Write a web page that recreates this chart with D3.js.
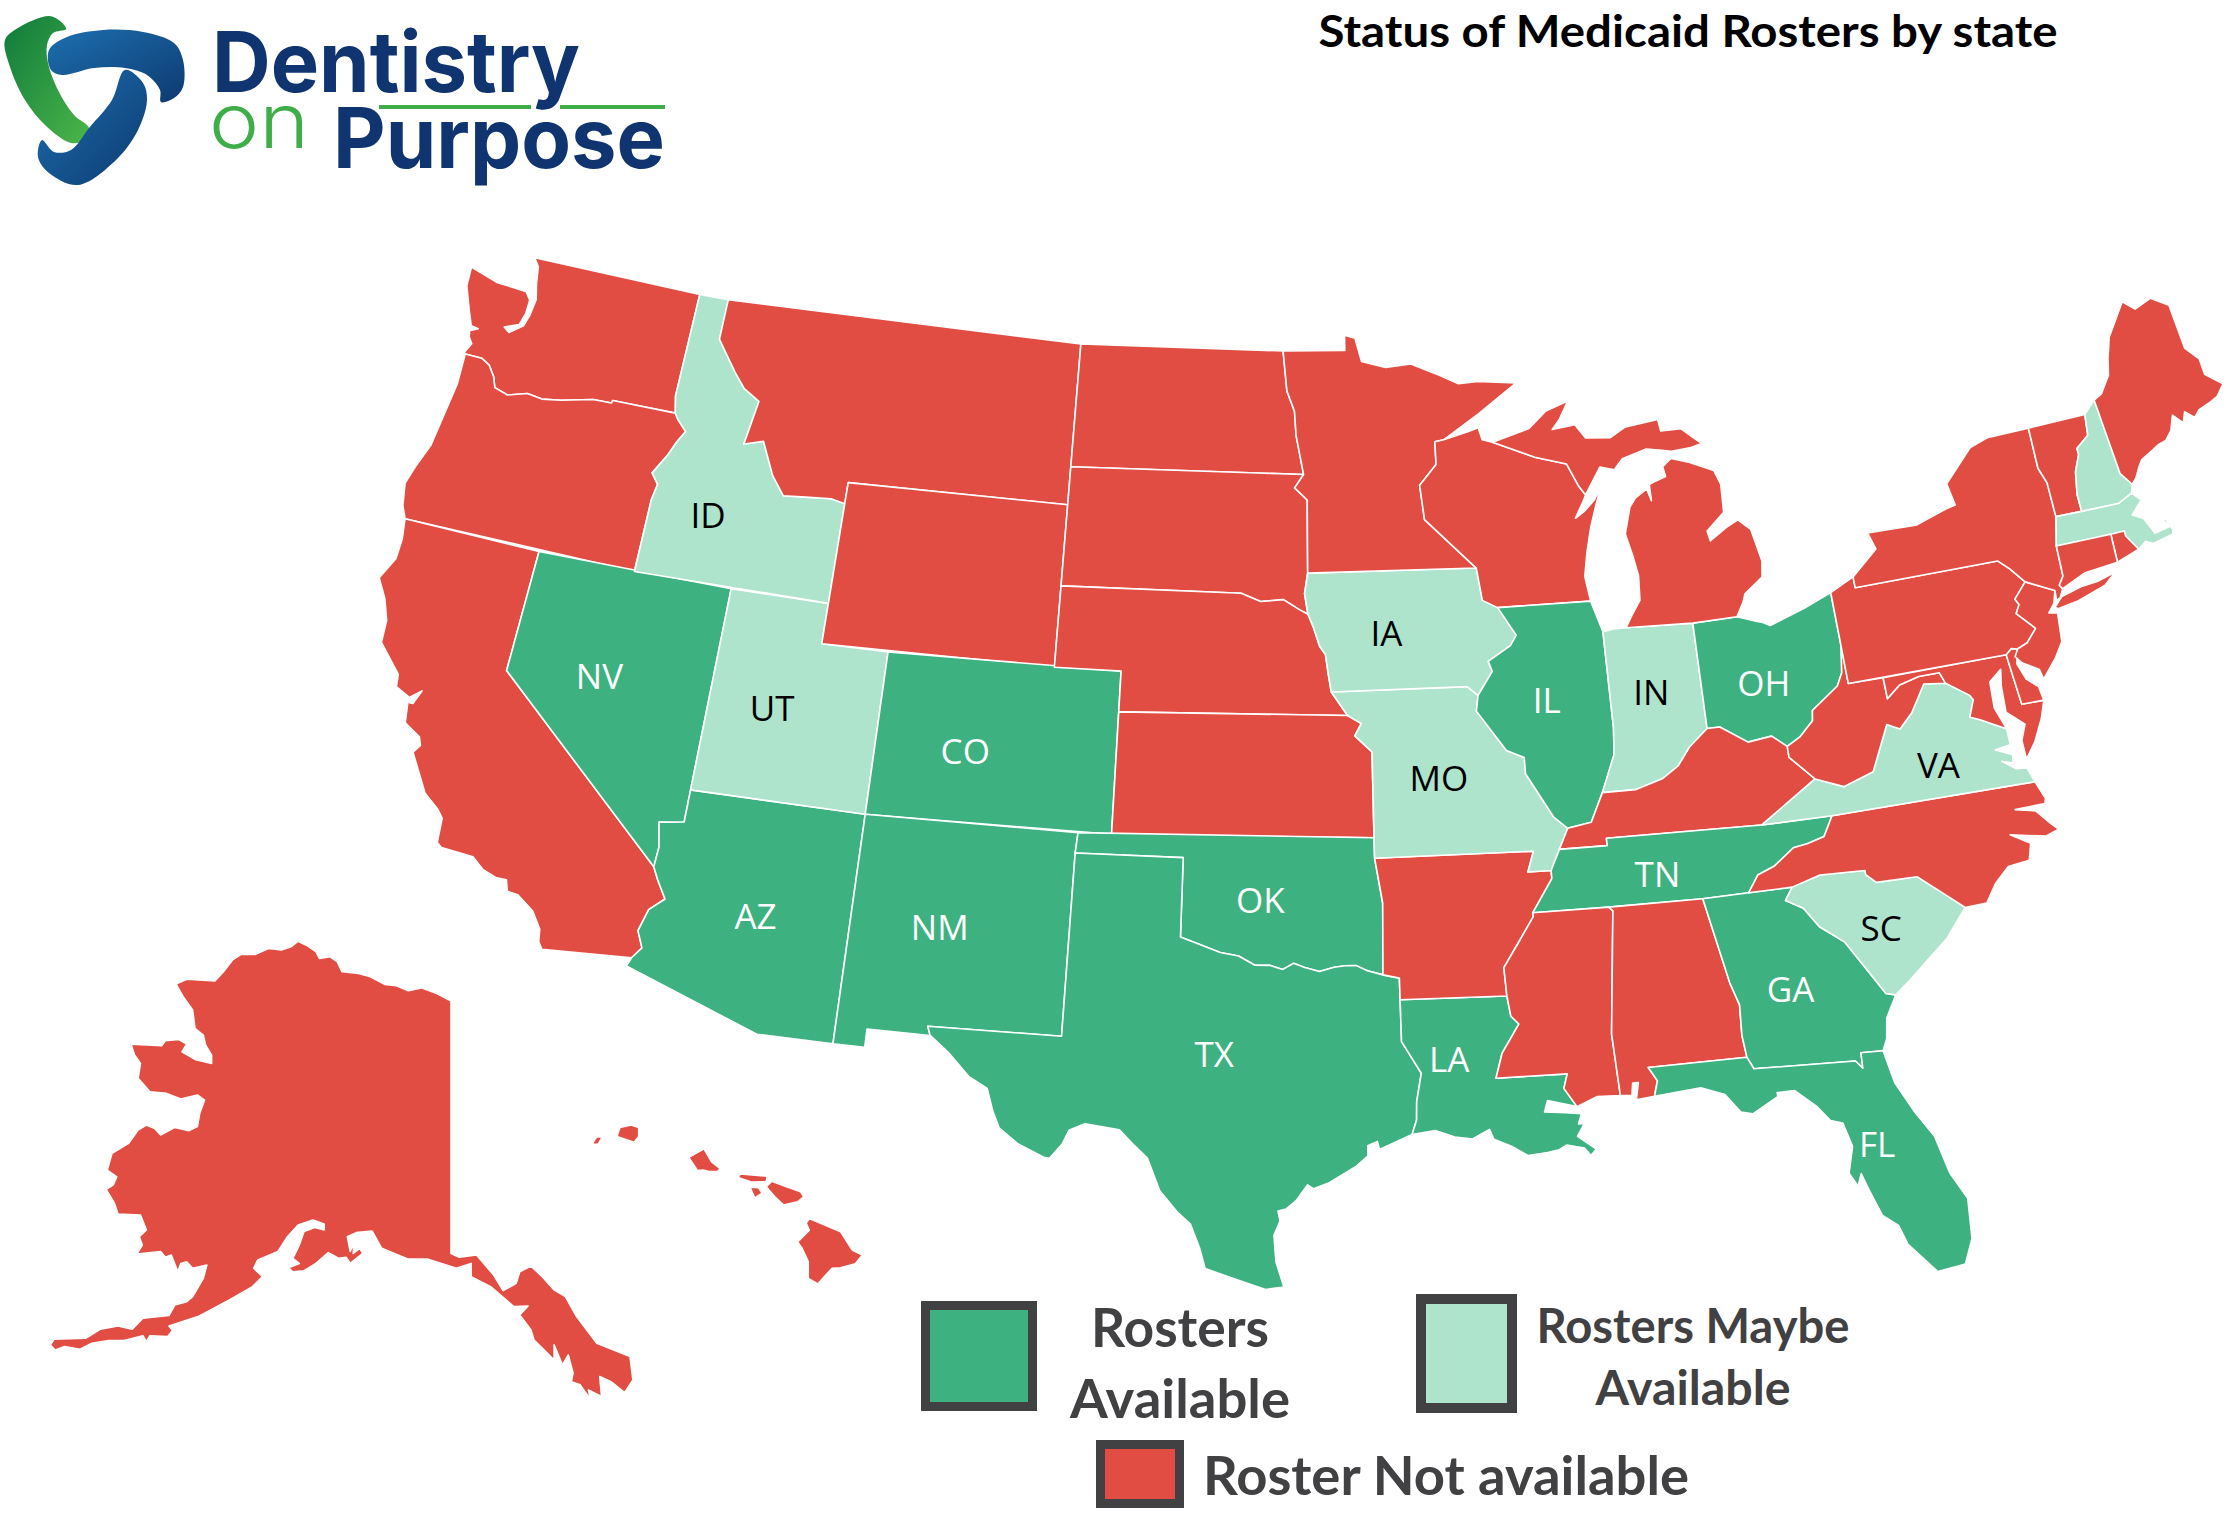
<!DOCTYPE html>
<html>
<head>
<meta charset="utf-8">
<script src="https://d3js.org/d3.v7.min.js"></script>
<style>
  body { margin: 0; background: #fff; }
  text { font-family: Lato, "Open Sans", sans-serif; }
</style>
</head>
<body>
<div id="chart"></div>
<script>
// status of each state
const rostersAvailable = ["NV","AZ","NM","CO","TX","OK","LA","IL","OH","TN","GA","FL"];
const rostersMaybe = ["ID","UT","IA","MO","IN","VA","SC","NH","MA"];
const labelled = ["ID","NV","UT","CO","AZ","NM","TX","OK","IA","MO","IL","IN","OH","VA","TN","SC","GA","LA","FL"];
const legendLabels = ["Rosters","Available","Rosters Maybe","Available","Roster Not available"];

// shared borders, lon/lat
const waCoast = [[-122.76,49],[-122.55,48.8],[-122.45,48.4],[-122.3,48],[-122.35,47.6],[-122.45,47.3],[-122.85,47.05],[-123.05,47.15],[-122.6,47.3],[-122.5,47.6],[-122.5,47.95],[-122.7,48.13],[-123.1,48.15],[-123.7,48.17],[-124.7,48.38],[-124.65,47.9],[-124.3,47.3],[-124.1,46.98],[-123.85,46.95],[-124.1,46.85],[-124.05,46.7],[-123.9,46.55],[-124.05,46.3],[-124,46.27]];
const columbia = [[-124,46.27],[-123.45,46.27],[-123.15,46.15],[-122.9,45.9],[-122.76,45.65],[-122.3,45.55],[-121.7,45.7],[-121.2,45.65],[-120.6,45.73],[-119.6,45.92],[-119,45.93],[-118.98,46],[-116.92,46]];
const waId = [[-117.03,49],[-117.04,46.42],[-116.92,46]];
const orCoast = [[-124,46.27],[-123.95,45.5],[-124.05,44.7],[-124.15,43.9],[-124.4,43.3],[-124.55,42.84],[-124.4,42.3],[-124.21,42]];
const orId = [[-116.92,46],[-116.78,45.85],[-116.46,45.6],[-116.67,45.3],[-116.85,44.95],[-117.2,44.45],[-116.95,44.2],[-117.03,43.8],[-117.03,42]];
const caCoast = [[-124.21,42],[-124.1,41.5],[-124.1,41],[-124.4,40.45],[-124.05,40],[-123.8,39.5],[-123.75,38.95],[-123,38.3],[-122.95,38],[-122.5,37.82],[-122.2,38.05],[-122.35,37.7],[-122.5,37.7],[-122.4,37.2],[-121.9,36.95],[-121.8,36.75],[-121.95,36.55],[-121.3,35.65],[-120.85,35.35],[-120.65,35.15],[-120.6,34.55],[-120.45,34.45],[-119.55,34.4],[-119.2,34.15],[-118.8,34.02],[-118.5,34.02],[-118.4,33.75],[-118.1,33.72],[-117.6,33.4],[-117.3,33],[-117.25,32.7],[-117.12,32.53]];
const colorado = [[-114.72,32.72],[-114.5,33],[-114.7,33.4],[-114.53,33.95],[-114.15,34.27],[-114.45,34.7],[-114.63,35]];
const caNv = [[-114.63,35],[-120,39],[-120,42]];
const nvAz = [[-114.63,35],[-114.6,35.5],[-114.74,36.1],[-114.35,36.15],[-114.05,36.2],[-114.05,37]];
const mtId = [[-111.05,44.47],[-111.5,44.55],[-112.3,44.5],[-113,44.45],[-113.45,44.9],[-113.95,45.7],[-114.55,45.55],[-114.35,46.65],[-114.9,46.9],[-115.3,47.25],[-115.75,47.7],[-116.05,48],[-116.05,49]];
const redRiverN = [[-97.23,49],[-97.1,48],[-96.85,47.5],[-96.8,46.9],[-96.56,45.93]];
const mnSd = [[-96.56,45.93],[-96.85,45.6],[-96.45,45.3],[-96.45,43.5]];
const sdIa = [[-96.45,43.5],[-96.55,43],[-96.45,42.49]];
const neSd = [[-96.45,42.49],[-96.7,42.6],[-97.2,42.85],[-97.9,42.8],[-98.5,43],[-104.05,43]];
const neIa = [[-95.77,40.58],[-95.85,41],[-95.93,41.5],[-96.1,41.7],[-96.3,42.2],[-96.45,42.49]];
const neMo = [[-95.3,40],[-95.77,40.58]];
const ksMo = [[-95.3,40],[-94.9,39.8],[-95.1,39.5],[-94.61,39.1],[-94.62,37]];
const okAr = [[-94.62,36.5],[-94.43,35.4],[-94.48,33.64]];
const redRiver = [[-94.48,33.64],[-94.9,33.75],[-95.2,33.88],[-95.5,33.88],[-95.8,33.85],[-96.2,33.75],[-96.6,33.85],[-96.9,33.95],[-97.2,33.8],[-97.55,33.9],[-97.95,33.9],[-98.4,34.12],[-98.9,34.2],[-99.2,34.3],[-99.5,34.4],[-100,34.56]];
const txLa = [[-94.04,33.02],[-94.04,31.99],[-93.55,31.2],[-93.7,30.5],[-93.72,30.05],[-93.85,29.7]];
const txCoast = [[-93.85,29.7],[-94.7,29.35],[-94.75,29.55],[-95,29.45],[-95,29.2],[-95.3,28.95],[-96,28.55],[-96.4,28.4],[-96.55,28.5],[-96.85,28.1],[-97.1,27.9],[-97.3,27.85],[-97.25,27.6],[-97.4,27.25],[-97.35,26.6],[-97.15,25.96]];
const rioGrande = [[-97.15,25.96],[-97.6,25.9],[-98.2,26.1],[-99.1,26.4],[-99.25,26.9],[-99.5,27.5],[-99.85,27.8],[-100.3,28.3],[-100.65,29.1],[-101,29.4],[-101.4,29.77],[-102.3,29.88],[-102.7,29.7],[-102.85,29.35],[-103.15,28.98],[-103.3,29],[-104,29.3],[-104.5,29.65],[-104.7,30.05],[-104.9,30.6],[-105.4,30.85],[-106,31.4],[-106.53,31.78]];
const laMs = [[-91.17,33],[-91.1,32.5],[-90.9,32.3],[-91.4,31.6],[-91.6,31],[-89.73,31],[-89.85,30.65],[-89.55,30.18]];
const laCoast = [[-89.55,30.18],[-89.8,30.25],[-90.3,30.38],[-90.4,30.1],[-89.85,30.05],[-89.45,30],[-89.55,29.75],[-89.4,29.75],[-89.6,29.45],[-89.15,29.1],[-89.3,28.95],[-89.45,29.15],[-89.9,29.25],[-90.1,29.15],[-90.4,29.1],[-90.9,29.05],[-91.3,29.3],[-91.75,29.5],[-91.85,29.75],[-92.3,29.53],[-92.75,29.6],[-93.25,29.78],[-93.85,29.7]];
const msRiver = [[-91.17,33],[-91.2,33.7],[-90.75,34.3],[-90.3,34.9],[-90.3,35]];
const msAl = [[-88.2,35],[-88.1,34.9],[-88.47,31.9],[-88.4,30.37]];
const msCoast = [[-88.4,30.37],[-89,30.39],[-89.55,30.18]];
const alGa = [[-85.6,34.98],[-85.18,32.87],[-85,32.3],[-85.05,31.55],[-85,31]];
const alFl = [[-85,31],[-87.6,31],[-87.4,30.65],[-87.52,30.28]];
const alCoast = [[-87.52,30.28],[-88,30.23],[-87.9,30.65],[-88.05,30.65],[-88.1,30.35],[-88.4,30.37]];
const gaFl = [[-85,31],[-84.86,30.7],[-82.21,30.57],[-82.05,30.37],[-82.03,30.75],[-81.45,30.72]];
const flCoast = [[-81.45,30.72],[-81.3,29.9],[-80.95,29.15],[-80.55,28.45],[-80.35,27.5],[-80.03,26.8],[-80.12,25.8],[-80.4,25.2],[-81.1,25.12],[-81.7,25.9],[-81.85,26.4],[-82.2,26.7],[-82.4,27.3],[-82.55,27.8],[-82.68,27.5],[-82.85,27.85],[-82.65,28.5],[-82.8,29.1],[-83.1,29.2],[-83.4,29.6],[-83.9,30.05],[-84.35,30.05],[-84.35,29.95],[-85.05,29.6],[-85.35,29.68],[-85.7,30.15],[-86.3,30.38],[-87.52,30.28]];
const gaSc = [[-83.11,35],[-83.35,34.7],[-82.9,34.45],[-82.55,33.95],[-81.95,33.5],[-81.4,32.6],[-81.1,32.1],[-80.85,32.03]];
const gaCoast = [[-80.85,32.03],[-81.2,31.5],[-81.3,31],[-81.45,30.72]];
const ncSc = [[-83.11,35],[-82.3,35.2],[-81.05,35.15],[-81.05,35.05],[-80.8,34.82],[-79.67,34.8],[-78.55,33.86]];
const scCoast = [[-78.55,33.86],[-79.2,33.2],[-79.9,32.7],[-80.45,32.3],[-80.85,32.03]];
const tnNc = [[-84.32,35],[-84,35.4],[-83.5,35.57],[-82.9,35.95],[-82.5,36],[-82,36.12],[-81.68,36.59]];
const ncCoast = [[-75.87,36.55],[-75.7,36.1],[-75.75,35.98],[-76.6,35.98],[-76.05,35.85],[-75.75,35.5],[-75.55,35.3],[-75.95,35.2],[-76.9,35.4],[-76.4,35.1],[-76.55,34.7],[-77.15,34.65],[-77.6,34.3],[-77.95,33.87],[-78.55,33.86]];
const vaCoast = [[-75.87,36.55],[-76,36.92],[-76.3,36.95],[-76.65,37.2],[-76.35,37.1],[-76.3,37.3],[-76.75,37.5],[-76.3,37.55],[-76.3,37.95]];
const vaMd = [[-76.3,37.95],[-77,38.3],[-77.25,38.4],[-77.04,38.8],[-77.12,38.93],[-77.72,39.32]];
const vaWv = [[-77.72,39.32],[-78.35,39.4],[-78.87,38.76],[-79.3,38.42],[-79.65,38.58],[-80.3,37.5],[-81.2,37.25],[-81.97,37.54]];
const vaKy = [[-81.97,37.54],[-83.68,36.6]];
const ohRiverE = [[-80.52,40.64],[-80.65,40],[-80.85,39.7],[-81.7,39.2],[-81.75,38.95],[-82.2,38.6],[-82.6,38.42]];
const wvKy = [[-82.6,38.42],[-82.6,38.15],[-81.97,37.54]];
const wvMd = [[-79.48,39.72],[-79.48,39.2],[-79.05,39.48],[-78.45,39.6],[-77.83,39.6],[-77.72,39.32]];
const mdDe = [[-75.79,39.72],[-75.7,38.46],[-75.05,38.45]];
const deArc = [[-75.79,39.72],[-75.6,39.84],[-75.42,39.8]];
const paNj = [[-74.7,41.36],[-75.13,41],[-75.05,40.85],[-75.2,40.65],[-74.75,40.2],[-75.1,39.9],[-75.42,39.8]];
const delawareN = [[-75.35,42],[-75.05,41.75],[-74.7,41.36]];
const nyVt = [[-73.35,45.01],[-73.4,44],[-73.25,43.6],[-73.27,42.75]];
const nyCt = [[-73.5,42.05],[-73.55,41.3],[-73.73,41.1],[-73.66,41]];
const ctRiver = [[-71.5,45.01],[-71.6,44.5],[-72.05,44.25],[-72.05,44.1],[-72.3,43.7],[-72.45,43.15],[-72.46,42.73]];
const nhMe = [[-71.08,45.3],[-70.98,43.4],[-70.72,43.07]];
const nhMa = [[-70.82,42.87],[-71.3,42.7],[-72.46,42.73]];
const riMa = [[-71.8,42.02],[-71.38,42.02],[-71.38,41.89],[-71.12,41.5]];
const ohIn = [[-84.8,41.7],[-84.82,39.1]];
const ohRiver = [[-84.82,39.1],[-84.45,39.1],[-83.7,38.65],[-83,38.72],[-82.6,38.42]];
const inKy = [[-84.82,39.1],[-85.4,38.7],[-85.8,38.27],[-86.3,38],[-87.1,37.8],[-88.05,37.8]];
const ilKy = [[-88.05,37.8],[-88.45,37.1],[-89.13,37]];
const kyTn = [[-89.42,36.5],[-88.07,36.5],[-88.07,36.68],[-83.68,36.6]];
const tnVa = [[-83.68,36.6],[-81.68,36.59]];
const tnMo = [[-89.13,37],[-89.42,36.5],[-89.7,36]];
const tnAr = [[-89.7,36],[-89.7,35.8],[-90.3,35]];
const moIl = [[-91.42,40.38],[-91.5,40],[-90.7,39],[-90.2,38.8],[-90.2,38.4],[-89.5,37.3],[-89.13,37]];
const iaIl = [[-91.22,43.5],[-91.1,42.7],[-90.65,42.5],[-90.15,41.8],[-90.35,41.55],[-91.05,41.2],[-90.95,40.95],[-91.42,40.38]];
const mnWi = [[-92,46.7],[-92.29,46.66],[-92.29,46.1],[-92.85,45.6],[-92.75,44.75],[-91.22,43.5]];
const wiMi = [[-90.42,46.57],[-89.1,46.13],[-88.1,45.9],[-87.8,45.35],[-87.6,45.1]];
const ilIn = [[-87.53,41.72],[-87.53,39.35],[-87.6,38.7],[-87.95,38],[-88.05,37.8]];
const r = a => a.slice().reverse();

// state outlines stitched from the borders above
const stateRings = {
  WA: [[...waCoast, ...columbia, ...r(waId)]],
  OR: [[...orCoast, [-117.03,42], ...r(orId), ...r(columbia)]],
  CA: [[...caCoast, ...colorado, ...caNv]],
  NV: [[[-114.04,42], ...r(nvAz), ...caNv]],
  AZ: [[[-114.05,37],[-109.05,37],[-109.05,31.33],[-111.07,31.33],[-114.81,32.5], ...colorado, ...nvAz]],
  UT: [[[-114.04,42],[-111.05,42],[-111.05,41],[-109.05,41],[-109.05,37],[-114.05,37]]],
  ID: [[[-117.03,49], ...r(mtId), [-111.05,42],[-117.03,42], ...r(orId), ...r(waId)]],
  MT: [[[-116.05,49],[-104.05,49],[-104.05,45],[-111.05,45], ...mtId]],
  WY: [[[-111.05,45],[-104.05,45],[-104.05,41],[-111.05,41]]],
  CO: [[[-109.05,41],[-102.05,41],[-102.05,37],[-109.05,37]]],
  NM: [[[-109.05,37],[-103,37],[-103.04,36.5],[-103.06,32],[-106.62,32],[-106.53,31.78],[-108.21,31.78],[-108.21,31.33],[-109.05,31.33]]],
  ND: [[[-104.05,49], ...redRiverN, [-104.05,45.94]]],
  SD: [[[-104.05,45.94], ...mnSd, ...sdIa, ...neSd]],
  NE: [[[-104.05,43], ...r(neSd), ...r(neIa), ...r(neMo), [-102.05,40],[-102.05,41],[-104.05,41]]],
  KS: [[[-102.05,40],[-95.3,40], ...ksMo.slice(1), [-102.05,37]]],
  OK: [[[-103,37],[-94.62,37], ...okAr, ...redRiver, [-100,36.5],[-103.04,36.5]]],
  TX: [[[-103.04,36.5],[-100,36.5], ...r(redRiver), [-94.04,33.55], ...txLa, ...txCoast, ...rioGrande, [-106.62,32],[-103.06,32]]],
  LA: [[[-94.04,33.02], ...laMs, ...laCoast, ...r(txLa)]],
  AR: [[[-94.62,36.5],[-90.15,36.5],[-90.35,36], ...tnAr, ...r(msRiver), [-94.04,33.02],[-94.04,33.55],[-94.48,33.64], ...r(okAr)]],
  MO: [[[-95.77,40.58],[-91.73,40.61], ...moIl, ...tnMo, [-90.35,36],[-90.15,36.5],[-94.62,36.5], ...r(ksMo), ...neMo]],
  IA: [[[-96.45,43.5], ...iaIl, [-91.73,40.61],[-95.77,40.58], ...neIa, ...r(sdIa)]],
  MN: [[[-97.23,49],[-95.15,49],[-95.15,49.38],[-94.8,49.3],[-94.6,48.72],[-93.8,48.55],[-92.95,48.62],[-92,48.3],[-91.4,48.07],[-90.75,48.1],[-89.5,48],[-90.8,47.3], ...mnWi, [-96.45,43.5], ...r(mnSd), ...r(redRiverN)]],
  WI: [[[-92,46.7],[-91.2,46.87],[-90.85,46.95],[-90.75,46.65], ...wiMi, [-87.7,44.95],[-88,44.55],[-87.7,44.7],[-87.35,44.95],[-87.1,45.25],[-87.3,44.85],[-87.55,44.3],[-87.75,43.7],[-87.9,43.1],[-87.8,42.49],[-90.65,42.5],[-91.1,42.7],[-91.22,43.5], ...r(mnWi).slice(1)]],
  IL: [[[-87.8,42.49], ...ilIn, ...ilKy, ...r(moIl), [-90.95,40.95],[-91.05,41.2],[-90.35,41.55],[-90.15,41.8],[-90.65,42.5]]],
  IN: [[[-87.53,41.72],[-87.2,41.76],[-86.82,41.76],[-84.8,41.7], ...ohIn, ...inKy, ...r(ilIn)]],
  OH: [[[-80.52,41.98],[-81.4,41.7],[-82.5,41.4],[-82.7,41.5],[-82.9,41.55],[-83.45,41.72],[-84.8,41.7], ...ohIn, ...ohRiver, ...r(ohRiverE)]],
  KY: [[[-84.82,39.1], ...inKy, ...ilKy, [-89.42,36.5], ...kyTn, ...r(vaKy), ...r(wvKy), ...r(ohRiver)]],
  TN: [[[-89.42,36.5], ...kyTn, ...tnVa, ...r(tnNc), [-85.6,34.98],[-88.2,35],[-90.3,35], ...r(tnAr)]],
  MS: [[[-90.3,35],[-88.2,35], ...msAl, ...msCoast, ...r(laMs), ...msRiver]],
  AL: [[[-88.2,35], ...alGa, ...alFl, ...alCoast, ...r(msAl)]],
  GA: [[[-85.6,34.98],[-83.11,35], ...gaSc, ...gaCoast, ...r(gaFl), ...r(alGa)]],
  FL: [[...gaFl, ...flCoast, ...r(alFl)]],
  SC: [[...ncSc, ...scCoast, ...r(gaSc)]],
  NC: [[[-84.32,35], ...tnNc, [-75.87,36.55], ...ncCoast, ...r(ncSc)]],
  VA: [[[-83.68,36.6], ...tnVa, [-75.87,36.55], ...vaCoast, ...vaMd, ...vaWv, ...vaKy]],
  WV: [[...ohRiverE, ...wvKy, ...r(vaWv), ...r(wvMd), [-80.52,39.72]]],
  MD: [[[-79.48,39.72], ...mdDe, [-75.25,38.03],[-75.6,37.5],[-75.95,37.13],[-75.95,37.6],[-75.75,37.97],[-76.2,38.35],[-76.15,39],[-76.05,39.4],[-76.45,39.15],[-76.5,38.5],[-76.35,38.1], ...vaMd, ...r(wvMd)]],
  DE: [[...deArc, [-75.55,39.45],[-75.4,39.05],[-75.1,38.8], ...r(mdDe)]],
  PA: [[[-80.52,41.98],[-79.76,42.27],[-79.76,42], ...delawareN, ...paNj, ...r(deArc), [-80.52,39.72]]],
  NJ: [[[-74.7,41.36],[-73.9,41],[-74.03,40.7],[-74.25,40.5],[-74,40.45],[-74.1,39.75],[-74.4,39.4],[-74.9,38.95],[-74.95,39.2],[-75.4,39.45],[-75.55,39.63],[-75.42,39.8], ...r(paNj)]],
  NY: [[[-79.76,42.27],[-78.9,42.85],[-79.05,43.27],[-77.5,43.25],[-76.5,43.5],[-76.2,43.55],[-76.3,44.1],[-75.3,44.85],[-74.7,45],...nyVt,[-73.5,42.05],...nyCt,[-73.8,40.8],[-73.93,40.75],[-73.9,41],[-74.7,41.36], ...r(delawareN),[-79.76,42]],
       [[-74.03,40.6],[-73.75,40.82],[-73.1,40.95],[-72.6,40.98],[-72,41.1],[-72.4,40.85],[-73.3,40.63],[-73.95,40.55]]],
  VT: [[[-73.35,45.01], ...ctRiver, [-73.27,42.75], ...r(nyVt).slice(1)]],
  NH: [[[-71.5,45.01], ...nhMe, [-70.82,42.87], ...nhMa, ...r(ctRiver)]],
  ME: [[[-71.08,45.3],[-70.8,45.4],[-70.4,45.8],[-70.25,46.2],[-70,46.7],[-69.23,47.46],[-68.9,47.2],[-68.3,47.36],[-67.8,47.07],[-67.78,45.95],[-67.45,45.6],[-67.45,45.2],[-67,44.85],[-67.3,44.6],[-67.6,44.5],[-68,44.4],[-68.2,44.25],[-68.45,44.45],[-68.6,44.2],[-68.85,44.45],[-69.05,44.1],[-69.3,43.9],[-69.55,43.85],[-69.8,43.75],[-70.2,43.6],[-70.35,43.45],[-70.55,43.2], ...r(nhMe)]],
  MA: [[[-73.5,42.05], ...riMa, [-70.85,41.65],[-70.65,41.55],[-70,41.65],[-69.95,41.75],[-70.05,42.03],[-70.2,42.08],[-70,41.85],[-70.5,41.78],[-70.7,42.2],[-71,42.35],[-70.6,42.65],[-70.82,42.87], ...nhMa, [-73.27,42.75]]],
  RI: [[...riMa, [-71.85,41.32]]],
  CT: [[[-73.5,42.05],[-71.8,42.02],[-71.85,41.32],[-72.9,41.25], ...r(nyCt)]],
  MI: [[[-86.82,41.76],[-84.8,41.7],[-83.45,41.72],[-83.2,42.05],[-83.1,42.25],[-82.5,42.6],[-82.42,43],[-82.6,43.8],[-82.95,44.07],[-83.35,43.92],[-83.9,43.65],[-83.95,43.9],[-83.35,44.3],[-83.3,45],[-83.45,45.35],[-84.2,45.63],[-84.75,45.78],[-85.05,45.6],[-85,45.35],[-85.4,45.25],[-85.55,45.2],[-85.55,44.8],[-85.65,45.1],[-86.05,44.9],[-86.25,44.7],[-86.5,44.05],[-86.35,43.5],[-86.25,43],[-86.3,42.4],[-86.6,42.05]],
       [...wiMi, [-87.05,45.75],[-86.6,45.65],[-86.3,45.9],[-85.5,46.08],[-85,46],[-84.7,45.95],[-84.1,45.98],[-83.7,46.05],[-84.3,46.48],[-84.95,46.48],[-85,46.77],[-86.1,46.67],[-86.6,46.45],[-87.4,46.5],[-87.7,46.85],[-88.45,46.78],[-88.2,47],[-87.85,47.45],[-88.6,47.25],[-89.2,46.85]]]
};

// the inset outlines follow the picture more than the globe
const alaskaRings = [[[-141,69.56],[-142.2,69.84],[-143.5,70.05],[-144.6,69.94],[-145.6,70.13],[-146.6,70.18],[-147.8,70.46],[-148.8,70.58],[-150.2,70.65],[-150.6,71.02],[-151.2,71.2],[-152.1,71.14],[-152.4,71.39],[-153.2,71.63],[-153.9,71.78],[-154.5,71.57],[-155.3,71.45],[-156.4,71.51],[-157.5,71.29],[-158.7,71.29],[-159.4,71.1],[-160.2,70.65],[-160.9,70.31],[-163.3,70.37],[-164.2,70.19],[-163.6,69.72],[-162.8,69.23],[-162.6,68.55],[-161.9,68.3],[-161.7,67.93],[-161.2,67.56],[-161.2,67.25],[-162.6,67.4],[-163.7,67.68],[-163.3,67.97],[-164,68.14],[-165.1,68.09],[-165.4,67.91],[-168,67.96],[-167.7,67.56],[-167.2,67.25],[-167.4,66.7],[-166.4,66.2],[-165,66.14],[-163.8,65.93],[-162.4,66.08],[-161.8,65.89],[-162.2,65.4],[-162.4,64.91],[-163.1,64.76],[-164.3,64.88],[-165.5,64.6],[-166,64.84],[-166.7,64.97],[-167.4,64.78],[-168.2,64.29],[-169.6,63.92],[-170,63.3],[-169.2,63.05],[-169.5,62.75],[-170.1,62.58],[-169.4,62.07],[-169.1,61.67],[-167.2,61.63],[-166.7,61.08],[-167.3,60.83],[-167.05,60.52],[-167.5,60.19],[-165.5,60.28],[-165.1,60.07],[-164.6,60.15],[-164.05,59.53],[-163.8,59.84],[-163.3,59.9],[-162.8,59.66],[-161.6,59.78],[-161.9,59.29],[-162.8,58.61],[-163.3,58.42],[-164.3,58.3],[-164.8,57.91],[-167,57.81],[-167.9,57.4],[-169.1,57.52],[-170.6,57.4],[-171.8,57.07],[-174.5,57.03],[-174.8,56.82],[-174.4,56.63],[-173.6,56.76],[-172.3,56.66],[-171.3,56.88],[-169.9,56.98],[-168.6,56.98],[-167,57.16],[-166.7,56.94],[-166.4,57.16],[-164.9,57.13],[-164.5,57.35],[-164.8,57.52],[-162.35,57.87],[-159.7,58.49],[-157.75,58.98],[-156.9,59.35],[-157.65,59.66],[-157.3,59.97],[-155.6,60.28],[-154.8,60.83],[-153.9,61.26],[-152.65,61.45],[-151.7,61.3],[-151.7,61.08],[-152.5,61.17],[-153.4,61.02],[-153.8,60.52],[-154.35,60.03],[-153.8,59.84],[-154.7,59.68],[-154.35,59.53],[-153.4,59.57],[-152.4,59.84],[-151.35,60.24],[-150.5,60.03],[-149.85,60.07],[-149.5,59.84],[-148.45,60.21],[-148.7,60.4],[-149.25,60.21],[-149.2,60.61],[-149.5,60.28],[-149.75,60.83],[-149,60.98],[-147.65,61.04],[-146.85,60.4],[-144.65,60],[-143,60],[-140.55,59.66],[-139.3,59.84],[-139.3,59.35],[-137.65,58.98],[-135.7,58.24],[-134.5,58.26],[-135.2,57.93],[-134.25,57.37],[-134,57],[-133.3,56.7],[-132.3,56.26],[-132.3,56.82],[-131.6,56.08],[-131.1,56.45],[-130.7,55.77],[-130.85,55.46],[-130.1,55.34],[-129.25,54.81],[-129.4,55.15],[-128.3,54.91],[-128.45,55.65],[-127.5,55.46],[-126.35,55.05],[-125.65,55.52],[-125.9,56.39],[-128.7,56.88],[-130.4,57.87],[-131.35,58.61],[-132.3,58.86],[-133.3,59.35],[-134.25,59.74],[-135.2,59.53],[-135.5,59.1],[-136.6,58.83],[-137.4,59.41],[-138.85,60.15],[-140.3,60.07],[-141,60.21]]];
const hawaiiRings = [[[-160.18,21.71],[-160.09,21.86],[-159.98,21.85],[-160.06,21.71]],[[-159.69,21.86],[-159.63,22.04],[-159.41,22.09],[-159.26,22.04],[-159.26,21.86],[-159.35,21.75]],[[-158.27,21.45],[-157.97,21.62],[-157.82,21.36],[-157.65,21.23],[-157.7,21.17],[-157.87,21.17],[-157.99,21.2],[-158.1,21.19]],[[-157.3,21.05],[-157.25,21.12],[-156.72,21.08],[-156.74,20.97],[-157.02,20.96]],[[-157.06,20.86],[-156.89,20.85],[-156.82,20.74],[-156.97,20.65]],[[-156.74,20.87],[-156.63,20.98],[-156.34,20.87],[-156.06,20.77],[-156,20.67],[-156.12,20.57],[-156.4,20.51],[-156.57,20.67]],[[-155.95,20.15],[-155.89,20.24],[-155.27,19.98],[-155.04,19.62],[-154.84,19.52],[-154.98,19.35],[-155.27,19.27],[-155.44,19.26],[-155.72,18.95],[-155.91,19.06],[-155.91,19.39],[-156.03,19.65],[-156.12,19.78],[-155.89,20.01]]];

// label anchors, lon/lat
const labelAnchors = {ID:[-115.2,43.7],NV:[-117.33,39.35],UT:[-112.18,39.3],CO:[-106.43,38.8],AZ:[-111.63,34.2],NM:[-106.6,34.47],TX:[-99,31.72],OK:[-97.82,35.5],IA:[-94.07,42],MO:[-92.7,38.43],IL:[-89.4,40.18],IN:[-86.3,40.16],OH:[-82.97,40.05],VA:[-78.43,37.41],TN:[-86.76,35.7],SC:[-80.9,33.72],GA:[-83.59,32.54],LA:[-92.8,31.53],FL:[-82.02,28.49]};

const width = 2230, height = 1518;
const colors = {available:"#3eb181", maybe:"#aee3cc", none:"#e14d43"};
const status = s => rostersAvailable.includes(s) ? "available" : rostersMaybe.includes(s) ? "maybe" : "none";

const svg = d3.select("#chart").append("svg")
    .attr("width", width).attr("height", height)
    .attr("viewBox", `0 0 ${width} ${height}`);

// the source map is stretched sideways, so x gets its own factor
const albers = d3.geoAlbers().rotate([97,0]).scale(2321).translate([0,0]);
const anchor = albers([-97.2,49]);
const lower48 = d => { const p = albers(d); return [(p[0]-anchor[0])*1.103+1284, p[1]-anchor[1]+351]; };

// alaska inset
const akX = d3.scaleLinear().domain([-141,-168]).range([451,131]);
const akY = d3.scaleLinear().domain([69.6,60.3]).range([1000,1251]);
const alaska = d => [akX(d[0]), akY(d[1])];

const hiProj = d3.geoEquirectangular().scale(2900).translate([0,0]);
const hiAnchor = hiProj([-155.5,19.6]);
const hawaii = d => { const p = hiProj(d); return [p[0]-hiAnchor[0]+829, p[1]-hiAnchor[1]+1251]; };

const ringPath = proj => d3.line().curve(d3.curveLinearClosed).x(d => proj(d)[0]).y(d => proj(d)[1]);

const shapes = Object.keys(stateRings).map(k => ({id:k, rings:stateRings[k], proj:lower48}));
shapes.push({id:"AK", rings:alaskaRings, proj:alaska}, {id:"HI", rings:hawaiiRings, proj:hawaii});

svg.append("g").selectAll("path")
    .data(shapes)
  .enter().append("path")
    .attr("class", d => "state " + d.id)
    .attr("d", d => d.rings.map(ringPath(d.proj)).join(""))
    .attr("fill", d => colors[status(d.id)])
    .attr("stroke", "#fff")
    .attr("stroke-width", 1.6)
    .attr("stroke-linejoin", "round");

// state labels
svg.append("g").selectAll("text")
    .data(labelled)
  .enter().append("text")
    .attr("x", d => lower48(labelAnchors[d])[0])
    .attr("y", d => lower48(labelAnchors[d])[1])
    .attr("text-anchor", "middle")
    .attr("dominant-baseline", "central")
    .style("font-family", "'Open Sans', sans-serif")
    .style("font-size", "35px")
    .attr("fill", d => status(d) === "available" ? "#fff" : "#000")
    .text(d => d);

// title
svg.append("text")
    .attr("x", 1688).attr("y", 47)
    .attr("text-anchor", "middle")
    .attr("textLength", 739).attr("lengthAdjust", "spacingAndGlyphs")
    .style("font-size", "44px").style("font-weight", 700)
    .attr("fill", "#000")
    .text("Status of Medicaid Rosters by state");

// legend
const legendBoxes = [
  {x:925.5, y:1305.5, w:107, h:101, s:"available", b:9},
  {x:1421, y:1299, w:91, h:109, s:"maybe", b:10},
  {x:1100.5, y:1444.5, w:79, h:59, s:"none", b:9}
];
svg.append("g").selectAll("rect")
    .data(legendBoxes)
  .enter().append("rect")
    .attr("x", d => d.x).attr("y", d => d.y)
    .attr("width", d => d.w).attr("height", d => d.h)
    .attr("fill", d => colors[d.s])
    .attr("stroke", "#414042")
    .attr("stroke-width", d => d.b);

const legendText = [
  {x:1180, y:1347, w:178, fs:53},
  {x:1180, y:1418, w:220, fs:53},
  {x:1693, y:1343, w:313, fs:47},
  {x:1693, y:1405, w:195, fs:47},
  {x:1446, y:1495, w:486, fs:53}
];
svg.append("g").selectAll("text")
    .data(legendText)
  .enter().append("text")
    .attr("x", d => d.x).attr("y", d => d.y)
    .attr("text-anchor", "middle")
    .attr("textLength", d => d.w).attr("lengthAdjust", "spacingAndGlyphs")
    .style("font-size", d => d.fs + "px").style("font-weight", 700)
    .attr("fill", "#414042")
    .text((d,i) => legendLabels[i]);

// logo
const defs = svg.append("defs");
const grad = (id, a, b) => {
  const g = defs.append("linearGradient").attr("id", id).attr("x1", 0).attr("y1", 0).attr("x2", 1).attr("y2", 1);
  g.append("stop").attr("offset", "0%").attr("stop-color", a);
  g.append("stop").attr("offset", "100%").attr("stop-color", b);
};
grad("lgGreen", "#0f7a3c", "#4bb648");
grad("lgBlue", "#1d6fb0", "#0d3a70");
const logoShapes = [
  {fill:"url(#lgBlue)", pts:[[49,50],[67,37],[103,30],[143,32],[174,43],[183,60],[183,87],[174,98],[161,102],[160,90],[147,75],[125,68],[94,68],[62,75],[51,70]]},
  {fill:"url(#lgGreen)", pts:[[49,16],[60,21],[66,29],[53,33],[47,45],[48,63],[58,90],[74,115],[89,128],[85,140],[71,143],[45,125],[25,100],[10,67],[5,40],[18,28]]},
  {fill:"url(#lgBlue)", pts:[[125,70],[143,83],[147,100],[138,130],[116,160],[78,185],[49,173],[38,157],[42,140],[54,152],[71,150],[89,128],[112,100]]}
];
const blob = d3.line().curve(d3.curveCatmullRomClosed.alpha(0.5));
svg.append("g").selectAll("path")
    .data(logoShapes)
  .enter().append("path")
    .attr("d", d => blob(d.pts))
    .attr("fill", d => d.fill);

// the logotype is one text element, its words interlock
const logoText = svg.append("text")
    .style("font-family", "Inter, sans-serif")
    .style("font-variant-ligatures", "none");
logoText.append("tspan").attr("x", 212).attr("y", 92)
    .attr("textLength", 368).attr("lengthAdjust", "spacingAndGlyphs")
    .style("font-size", "84px").style("font-weight", 700).attr("fill", "#0f3470").text("Dentistry");
logoText.append("tspan").attr("x", 333).attr("y", 168)
    .attr("textLength", 332).attr("lengthAdjust", "spacingAndGlyphs")
    .style("font-size", "84px").style("font-weight", 700).attr("fill", "#0f3470").text("Purpose");
logoText.append("tspan").attr("x", 209).attr("y", 148)
    .attr("textLength", 100).attr("lengthAdjust", "spacingAndGlyphs")
    .style("font-size", "76px").style("font-weight", 300).attr("fill", "#3fae49").text("on");
svg.append("g").selectAll("rect.rule")
    .data([[379,152],[560,105]])
  .enter().append("rect")
    .attr("class", "rule")
    .attr("x", d => d[0]).attr("y", 105)
    .attr("width", d => d[1]).attr("height", 4)
    .attr("fill", "#3fae49");
</script>
</body>
</html>
